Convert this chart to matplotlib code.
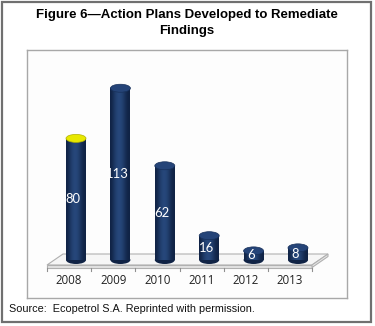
import matplotlib
matplotlib.use("Agg")
import matplotlib.pyplot as plt
import numpy as np
from matplotlib.patches import Ellipse, Rectangle, Polygon
from matplotlib.colors import LinearSegmentedColormap

years = ["2008", "2009", "2010", "2011", "2012", "2013"]
values = [80, 113, 62, 16, 6, 8]
title = "Figure 6\u2014Action Plans Developed to Remediate\nFindings"
source = "Source:  Ecopetrol S.A. Reprinted with permission."

W, H = 375, 326
fig = plt.figure(figsize=(W / 100, H / 100), dpi=100)
fig.patch.set_facecolor("white")

# outer border
fig.add_artist(Rectangle((2 / W, 4 / H), 369 / W, (H - 6) / H, transform=fig.transFigure,
                         fill=False, edgecolor="#707070", linewidth=1.6))

# inner chart box: px x 27..347, y 50..298 (from top)
L, T, R, B = 27, 50, 347, 298
ax = fig.add_axes([L / W, 1 - B / H, (R - L) / W, (B - T) / H])
ax.set_facecolor("#fdfdfd")
for s in ax.spines.values():
    s.set_edgecolor("#a8a8a8")
    s.set_linewidth(1.0)
ax.set_xticks([])
ax.set_yticks([])

xpx0, xstep = 76, 44.4
ypx0, yscale = 260, 1.52

def px2x(px):
    return (px - xpx0) / xstep

def px2y(py):
    return (ypx0 - py) / yscale

# floor platform
fl, bl, br, fr = (px2x(47), px2y(265)), (px2x(63), px2y(254)), (px2x(328), px2y(254)), (px2x(312), px2y(265))
ax.add_patch(Polygon([fl, bl, br, fr], closed=True, facecolor="#f6f6f6", edgecolor="#b0b0b0", lw=0.8, zorder=1))
ax.add_patch(Polygon([fl, fr, (fr[0], px2y(267.5)), (fl[0], px2y(267.5))], closed=True,
                     facecolor="#e2e2e2", edgecolor="#b0b0b0", lw=0.8, zorder=1))
ax.add_patch(Polygon([fr, br, (br[0], px2y(256.5)), (fr[0], px2y(267.5))], closed=True,
                     facecolor="#e8e8e8", edgecolor="#b0b0b0", lw=0.8, zorder=1))
# ticks along front edge
for i in range(len(years) + 1):
    tx = px2x(47 + 44.2 * i)
    ax.plot([tx, tx], [px2y(267.5), px2y(271)], color="#909090", lw=0.8, zorder=1, clip_on=False)
for i, yl in enumerate(years):
    ax.text(px2x(69 + 44.2 * i), px2y(281), yl, ha="center", va="center",
            fontsize=8.3, family="Open Sans", color="#222222")

# cylinders
bw = 20 / xstep
eh = 8 / yscale
grad = np.array([[0.0, 0.25, 0.55, 0.75, 0.85, 0.8, 0.6, 0.35, 0.1, 0.0]])
cmap = LinearSegmentedColormap.from_list("cyl", ["#102345", "#27487c"])
for i, v in enumerate(values):
    x0 = i - bw / 2
    ax.add_patch(Ellipse((i, 0), bw, eh, facecolor="#102345", edgecolor="none", zorder=2))
    bars = ax.bar(i, v, width=bw, bottom=0, color="#1b3765", zorder=2, linewidth=0)
    im = ax.imshow(grad, cmap=cmap, aspect="auto", extent=(x0, x0 + bw, 0, v), zorder=3,
                   interpolation="bicubic")
    im.set_clip_path(bars.patches[0])
    topc = "#e8e800" if i == 0 else "#254478"
    ax.add_patch(Ellipse((i, v), bw, eh, facecolor=topc, edgecolor="#b0b000" if i == 0 else "#17305a",
                         lw=0.5, zorder=4))
    ax.text(i - 0.06, max(v / 2, 2.3), str(v), ha="center", va="center", color="white",
            fontsize=9.4, family="Lato", zorder=5)

ax.set_xlim((L - xpx0) / xstep, (R - xpx0) / xstep)
ax.set_ylim((ypx0 - B) / yscale, (ypx0 - T) / yscale)

fig.text(187 / W, 1 - 23 / H, title, ha="center", va="center", fontsize=9.5,
         fontweight="bold", family="Liberation Sans", linespacing=1.35)
fig.text(9 / W, 1 - 309 / H, source, ha="left", va="center", fontsize=7.85,
         family="Liberation Sans", color="#111111")

fig.savefig("out.png", dpi=100, facecolor="white")
